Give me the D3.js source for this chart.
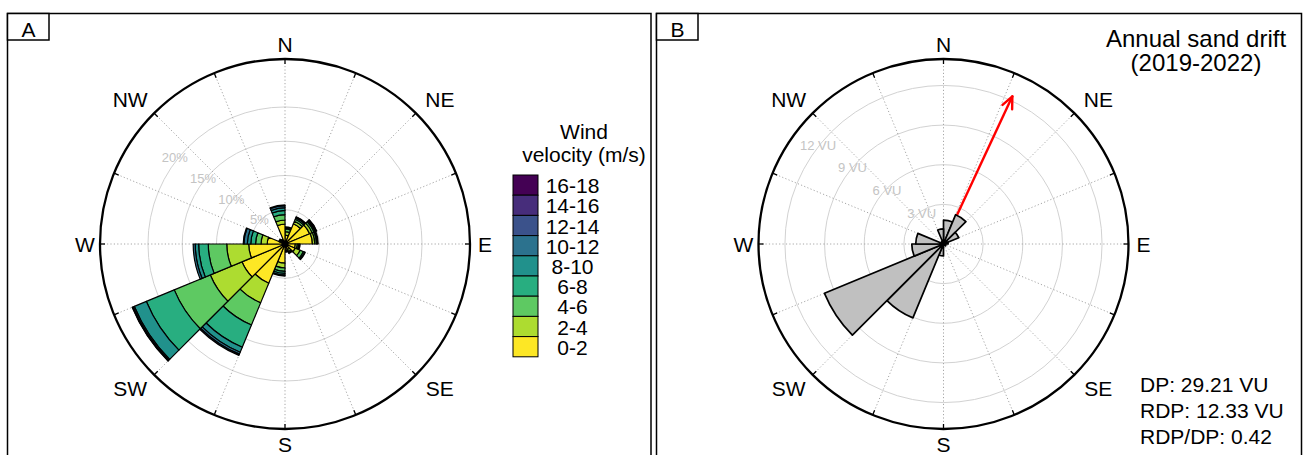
<!DOCTYPE html>
<html>
<head>
<meta charset="utf-8">
<script src="https://cdn.jsdelivr.net/npm/d3@7"></script>
<style>
  body { margin: 0; background: #fff; }
  svg text { font-family: "Liberation Sans", Arial, sans-serif; fill: #000; }
</style>
</head>
<body>
<div id="chart"></div>
<script>
// sector start bearings, degrees clockwise from north (each sector is 22.5 wide)
var sectorStart = [0, 22.5, 45, 67.5, 90, 112.5, 135, 157.5, 180, 202.5, 225, 247.5, 270, 292.5, 315, 337.5];
var compassNames = ["N", "NE", "E", "SE", "S", "SW", "W", "NW"];
var compassBearing = [0, 45, 90, 135, 180, 225, 270, 315];

// wind rose (A): frequency in % per speed class, per sector
var speedClasses = ["0-2", "2-4", "4-6", "6-8", "8-10", "10-12", "12-14", "14-16", "16-18"];
var freq0_2   = [1.3, 3.2, 3.9, 4.0, 1.5, 1.6, 0.9, 0.8, 2.8, 6.2, 6.8, 5.3, 2.6, 0.6, 0.5, 2.9];
var freq2_4   = [0.5, 0.4, 0.4, 0.35, 0.3, 0.8, 0.3, 0.2, 0.7, 3.1, 5.0, 3.2, 0.9, 0.2, 0.2, 0.6];
var freq4_6   = [0.4, 0.3, 0.3, 0.25, 0.2, 0.5, 0.2, 0.1, 0.5, 3.5, 5.7, 2.7, 0.8, 0.1, 0.1, 0.8];
var freq6_8   = [0.2, 0.2, 0.2, 0.15, 0.15, 0.2, 0.1, 0.1, 0.3, 3.5, 4.4, 1.4, 0.7, 0.1, 0, 0.6];
var freq8_10  = [0.1, 0.15, 0.15, 0.1, 0.05, 0.1, 0, 0, 0.25, 0.8, 1.9, 0.5, 0.5, 0, 0, 0.4];
var freq10_12 = [0, 0.05, 0.05, 0, 0, 0, 0, 0, 0.15, 0.3, 0.2, 0.3, 0.5, 0, 0, 0.3];
var freq12_14 = [0, 0, 0, 0, 0, 0, 0, 0, 0, 0.2, 0.1, 0, 0.1, 0, 0, 0.1];
var freq14_16 = [0, 0, 0, 0, 0, 0, 0, 0, 0, 0, 0.05, 0, 0, 0, 0, 0];
var freq16_18 = [0, 0, 0, 0, 0, 0, 0, 0, 0, 0, 0, 0, 0, 0, 0, 0];
var percentTicks = [5, 10, 15, 20];

// sand drift rose (B): drift potential in VU per sector
var driftPotential = [1.8, 2.4, 1.25, 0.35, 0.15, 0.2, 0.1, 0.05, 0.9, 6.05, 9.75, 2.4, 2.1, 0.2, 0.2, 1.15];
var vuTicks = [3, 6, 9, 12];
var DP = 29.21, RDP = 12.33, RDD = 25;

var W = 1306, H = 455;
var R = 185;
var rad = Math.PI / 180;

var svg = d3.select("#chart").append("svg")
  .attr("width", W)
  .attr("height", H);

// panel frames
function frame(x, w, letter) {
  svg.append("rect")
    .attr("x", x).attr("y", 13.5).attr("width", w).attr("height", 460)
    .attr("fill", "none").attr("stroke", "#000").attr("stroke-width", 1.5);
  svg.append("rect")
    .attr("x", x).attr("y", 13.5).attr("width", 41.5).attr("height", 26.5)
    .attr("fill", "#fff").attr("stroke", "#000").attr("stroke-width", 1.5);
  svg.append("text")
    .attr("x", x + 21).attr("y", 36.5)
    .attr("text-anchor", "middle")
    .style("font-size", "21px")
    .text(letter);
}
frame(7.5, 643.5, "A");
frame(656.5, 645, "B");

// polar grid: rings, dotted spokes, ring labels
function grid(g, rScale, ticks, fmt, labDir, labOff) {
  g.selectAll(".ring").data(ticks).enter().append("circle")
    .attr("r", function(d) { return rScale(d); })
    .attr("fill", "none").attr("stroke", "#d2d2d2").attr("stroke-width", 1);

  g.selectAll(".spoke").data(sectorStart).enter().append("line")
    .attr("x1", 0).attr("y1", 0)
    .attr("x2", function(d) { return R * Math.sin(d * rad); })
    .attr("y2", function(d) { return -R * Math.cos(d * rad); })
    .attr("stroke", "#9c9c9c").attr("stroke-width", 0.9)
    .attr("stroke-dasharray", "1.2,2.2");

  g.selectAll(".rlab").data(ticks).enter().append("text")
    .attr("x", function(d) { return labDir[0] * rScale(d) + labOff[0]; })
    .attr("y", function(d) { return labDir[1] * rScale(d) + labOff[1]; })
    .attr("text-anchor", "middle")
    .attr("dominant-baseline", "central")
    .style("font-size", "13px")
    .style("fill", "#c4c4c4")
    .text(fmt);
}

// outer circle, ticks and compass names
function rim(g, dot) {
  g.append("circle").attr("r", dot).attr("fill", "#000");

  g.append("circle").attr("r", R)
    .attr("fill", "none").attr("stroke", "#000").attr("stroke-width", 2.3);

  g.selectAll(".tick").data(sectorStart).enter().append("line")
    .attr("x1", function(d) { return R * Math.sin(d * rad); })
    .attr("y1", function(d) { return -R * Math.cos(d * rad); })
    .attr("x2", function(d) { return (R - 5) * Math.sin(d * rad); })
    .attr("y2", function(d) { return -(R - 5) * Math.cos(d * rad); })
    .attr("stroke", "#000").attr("stroke-width", 1.3);

  // intercardinal names sit a little wider than tall
  g.selectAll(".cmp").data(compassNames).enter().append("text")
    .attr("x", function(d, i) {
      var b = compassBearing[i], r = b % 90 === 0 ? 200 : 219;
      return r * Math.sin(b * rad);
    })
    .attr("y", function(d, i) {
      var b = compassBearing[i], r = b % 90 === 0 ? 200 : 204;
      return -r * Math.cos(b * rad);
    })
    .attr("text-anchor", "middle")
    .attr("dominant-baseline", "central")
    .style("font-size", "21px")
    .text(function(d) { return d; });
}

// ---------- panel A: wind rose ----------
var classArrays = [freq0_2, freq2_4, freq4_6, freq6_8, freq8_10, freq10_12, freq12_14, freq14_16, freq16_18];
var color = d3.scaleOrdinal()
  .domain(speedClasses)
  .range(speedClasses.map(function(d, i) { return d3.interpolateViridis(1 - i / 8); }));

var rA = d3.scaleLinear().domain([0, 27]).range([0, R]);
var gA = svg.append("g").attr("transform", "translate(285,244)");
grid(gA, rA, percentTicks, function(d) { return d + "%"; }, [-0.825, -0.605], [2.75, -3.4]);

var segs = [];
sectorStart.forEach(function(s, i) {
  var cum = 0;
  classArrays.forEach(function(arr, j) {
    var v = arr[i];
    if (v <= 0) return;
    segs.push({ start: s, inner: cum, outer: cum + v, cls: speedClasses[j] });
    cum += v;
  });
});

var arcA = d3.arc()
  .innerRadius(function(d) { return rA(d.inner); })
  .outerRadius(function(d) { return rA(d.outer); })
  .startAngle(function(d) { return d.start * rad; })
  .endAngle(function(d) { return (d.start + 22.5) * rad; });

gA.selectAll(".seg").data(segs).enter().append("path")
  .attr("d", arcA)
  .attr("fill", function(d) { return color(d.cls); })
  .attr("stroke", "#000").attr("stroke-width", 1.2)
  .attr("stroke-linejoin", "round");

rim(gA, 3.5);

// legend
var leg = svg.append("g");
leg.append("text").attr("x", 584).attr("y", 139).attr("text-anchor", "middle")
  .style("font-size", "21px").text("Wind");
leg.append("text").attr("x", 584).attr("y", 162).attr("text-anchor", "middle")
  .style("font-size", "21px").text("velocity (m/s)");

var legClasses = speedClasses.slice().reverse();
var boxH = 20.2;
leg.selectAll(".lbox").data(legClasses).enter().append("rect")
  .attr("x", 513).attr("y", function(d, i) { return 175 + i * boxH; })
  .attr("width", 25).attr("height", boxH)
  .attr("fill", function(d) { return color(d); })
  .attr("stroke", "#000").attr("stroke-width", 1);
leg.selectAll(".ltxt").data(legClasses).enter().append("text")
  .attr("x", 572.5).attr("y", function(d, i) { return 175 + i * boxH + boxH / 2 + 0.5; })
  .attr("text-anchor", "middle")
  .attr("dominant-baseline", "central")
  .style("font-size", "21px")
  .text(function(d) { return d; });

// ---------- panel B: sand drift rose ----------
var rB = d3.scaleLinear().domain([0, 14]).range([0, R]);
var gB = svg.append("g").attr("transform", "translate(943.5,244)");
grid(gB, rB, vuTicks, function(d) { return d + " VU"; }, [-0.871, -0.579], [12.6, -7.2]);

// resultant drift arrow
var tipR = rB(RDP);
var tx = tipR * Math.sin(RDD * rad), ty = -tipR * Math.cos(RDD * rad);
var headLen = 13, headAng = 24;
gB.append("line").attr("x1", 0).attr("y1", 0).attr("x2", tx).attr("y2", ty)
  .attr("stroke", "#ff0000").attr("stroke-width", 2.4);
[-headAng, headAng].forEach(function(a) {
  var b = (RDD + 180 + a) * rad;
  gB.append("line")
    .attr("x1", tx).attr("y1", ty)
    .attr("x2", tx + headLen * Math.sin(b)).attr("y2", ty - headLen * Math.cos(b))
    .attr("stroke", "#ff0000").attr("stroke-width", 2.4).attr("stroke-linecap", "round");
});

var arcB = d3.arc()
  .innerRadius(0)
  .outerRadius(function(d) { return rB(d); })
  .startAngle(function(d, i) { return sectorStart[i] * rad; })
  .endAngle(function(d, i) { return (sectorStart[i] + 22.5) * rad; });

gB.selectAll(".dp").data(driftPotential).enter().append("path")
  .attr("d", arcB)
  .attr("fill", "#c0c0c0")
  .attr("stroke", "#000").attr("stroke-width", 1.7)
  .attr("stroke-linejoin", "round");

rim(gB, 2);

svg.append("text").attr("x", 1196).attr("y", 46.5).attr("text-anchor", "middle")
  .style("font-size", "24px").text("Annual sand drift");
svg.append("text").attr("x", 1196).attr("y", 71).attr("text-anchor", "middle")
  .style("font-size", "24px").text("(2019-2022)");

var stats = ["DP: " + DP.toFixed(2) + " VU", "RDP: " + RDP.toFixed(2) + " VU", "RDP/DP: " + (RDP / DP).toFixed(2)];
svg.selectAll(".stat").data(stats).enter().append("text")
  .attr("x", 1140).attr("y", function(d, i) { return 392 + i * 26; })
  .style("font-size", "21px")
  .text(function(d) { return d; });
</script>
</body>
</html>
